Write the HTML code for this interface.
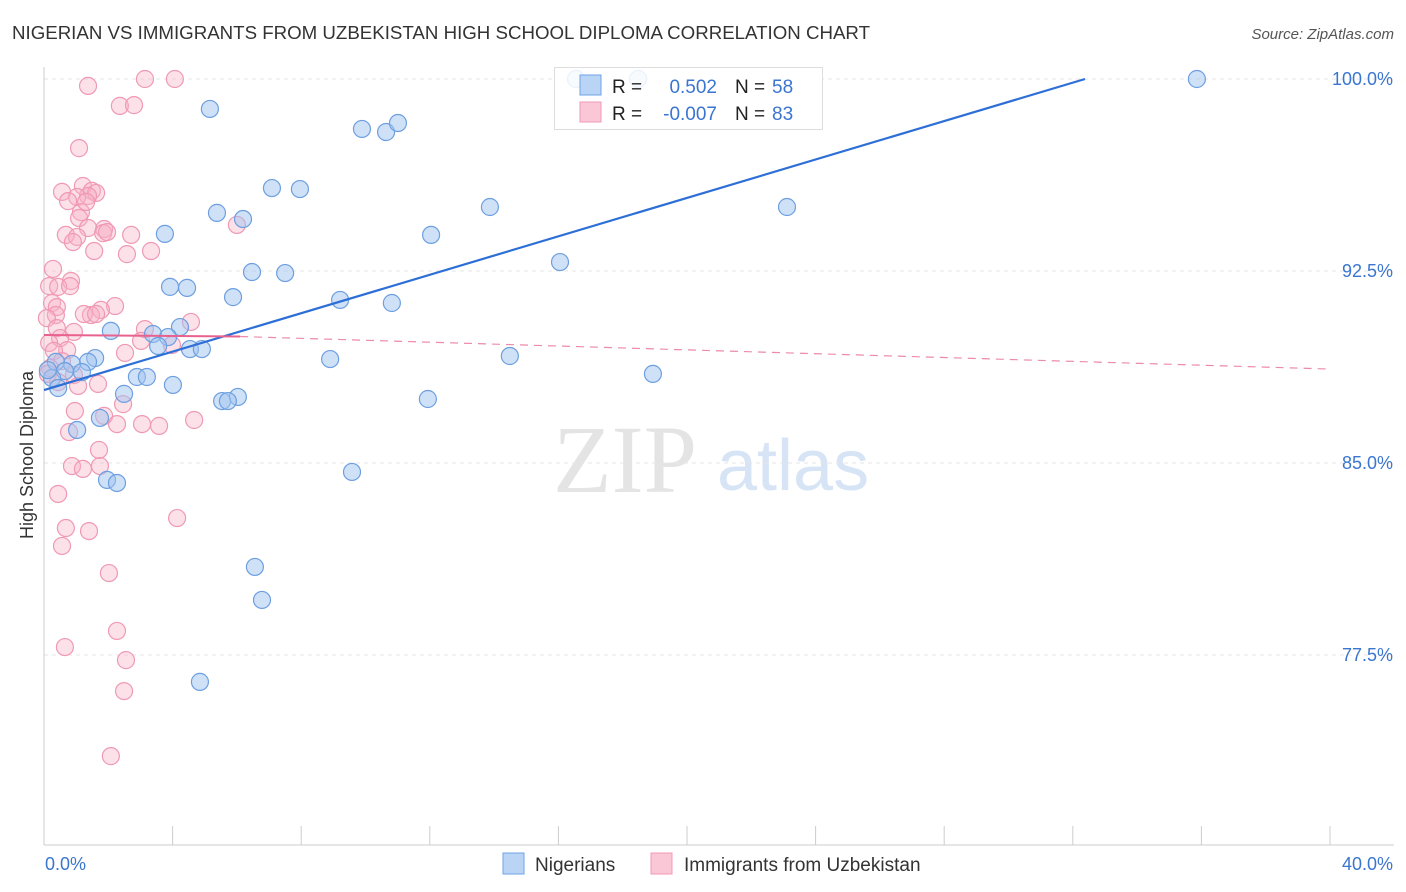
<!DOCTYPE html>
<html><head><meta charset="utf-8"><style>
body{margin:0;background:#fff;font-family:"Liberation Sans",sans-serif;}
#wrap{position:relative;width:1406px;height:892px;overflow:hidden;}
</style></head><body>
<div id="wrap">
<svg id="chart" width="1406" height="892">
<text x="12" y="39" font-size="18.7" fill="#333">NIGERIAN VS IMMIGRANTS FROM UZBEKISTAN HIGH SCHOOL DIPLOMA CORRELATION CHART</text>
<text x="1394" y="39" font-size="15" fill="#555" text-anchor="end" font-style="italic">Source: ZipAtlas.com</text>
<text x="33" y="455" font-size="18" fill="#333" text-anchor="middle" transform="rotate(-90 33 455)">High School Diploma</text>
<g>
<text x="553" y="492" font-size="96" font-family="Liberation Serif,serif" fill="#e4e4e4">ZIP</text>
<text x="717" y="490" font-size="72" fill="#d6e4f5">atlas</text>
</g>
<g id="grid"></g><g id="axes"></g><g id="pts"></g><g id="lines"></g>
<g>
<rect x="554.5" y="67.5" width="268" height="62" fill="#fff" fill-opacity="0.85" stroke="#ddd"/>
<rect x="580" y="75" width="21" height="20" fill="#b9d4f5" stroke="#6fa3e6"/>
<rect x="580" y="102" width="21" height="20" fill="#fac7d6" stroke="#f09ab6"/>
<text x="612" y="93" font-size="19" fill="#222">R = </text>
<text x="717" y="93" font-size="19" fill="#3a75d0" text-anchor="end">0.502</text>
<text x="735" y="93" font-size="19" fill="#222">N = </text>
<text x="772" y="93" font-size="19" fill="#3a75d0">58</text>
<text x="612" y="120" font-size="19" fill="#222">R = </text>
<text x="717" y="120" font-size="19" fill="#3a75d0" text-anchor="end">-0.007</text>
<text x="735" y="120" font-size="19" fill="#222">N = </text>
<text x="772" y="120" font-size="19" fill="#3a75d0">83</text>
</g>
<g>
<rect x="503" y="853" width="21" height="21" fill="#b9d4f5" stroke="#6fa3e6"/>
<text x="535" y="871" font-size="19" fill="#333">Nigerians</text>
<rect x="651" y="853" width="21" height="21" fill="#fac7d6" stroke="#f09ab6"/>
<text x="684" y="871" font-size="19" fill="#333">Immigrants from Uzbekistan</text>
</g>
</svg></div>
<script>
const yTicks=[100,92.5,85,77.5];
const yTickLabels=["100.0%","92.5%","85.0%","77.5%"];
const xTickValues=[0,4,8,12,16,20,24,28,32,36,40];
const xEndLabels=["0.0%","40.0%"];
const blueX=[16.55,18.48,35.86,5.16,9.89,10.64,11.01,7.09,7.96,5.38,6.19,13.87,23.11,3.76,12.04,6.47,7.50,16.05,3.92,4.45,5.88,9.21,10.82,4.23,2.08,3.39,3.86,3.55,4.54,4.91,8.90,14.49,1.59,1.37,0.87,0.37,0.65,0.25,0.44,2.89,3.20,4.01,2.49,6.03,5.54,5.72,11.94,18.94,1.74,1.03,1.96,2.27,9.58,6.56,6.78,4.85,0.12,1.18];
const blueY=[100,100,100,98.83,98.05,97.93,98.28,95.74,95.70,94.77,94.53,95.0,95.0,93.95,93.91,92.46,92.42,92.85,91.88,91.84,91.48,91.37,91.25,90.31,90.16,90.04,89.92,89.57,89.45,89.45,89.06,89.18,89.10,88.95,88.87,88.95,88.59,88.32,87.93,88.36,88.36,88.05,87.70,87.58,87.42,87.42,87.5,88.48,86.76,86.29,84.34,84.22,84.65,80.94,79.65,76.45,88.63,88.55];
const pinkX=[1.37,3.14,4.07,2.36,2.80,1.09,0.56,1.21,1.49,1.62,1.37,1.03,0.75,1.15,1.09,1.37,0.68,1.03,1.87,2.71,0.90,1.84,6.00,3.33,1.56,2.58,0.28,0.84,0.16,0.44,0.81,0.25,0.40,2.21,1.77,1.46,0.37,0.09,1.24,1.62,4.57,3.14,0.40,0.93,0.50,0.16,3.98,2.52,0.72,0.31,0.56,0.19,0.93,1.68,1.06,2.46,1.87,4.67,2.27,3.05,3.58,0.78,0.96,1.71,0.87,1.74,1.21,0.44,4.14,0.68,1.40,0.56,2.02,2.27,0.65,2.55,2.49,2.08,0.12,0.44,1.31,1.96,3.02];
const pinkY=[99.73,100,100,98.95,98.98,97.30,95.59,95.82,95.63,95.55,95.43,95.39,95.23,94.80,94.57,94.18,93.91,93.83,94.14,93.91,93.63,93.98,94.30,93.28,93.28,93.16,92.58,92.11,91.91,91.88,91.91,91.25,91.09,91.13,90.98,90.78,90.78,90.66,90.82,90.82,90.51,90.23,90.27,90.12,89.88,89.69,89.61,89.30,89.41,89.38,88.98,88.71,88.44,88.09,88.01,87.30,86.84,86.68,86.52,86.52,86.45,86.21,87.03,85.51,84.88,84.88,84.77,83.79,82.85,82.46,82.34,81.76,80.70,78.44,77.81,77.30,76.09,73.55,88.48,88.16,95.20,94.02,89.77];
const blueTrend=[[0,87.85],[32.38,100]];
const pinkTrend=[[0,90.0],[6.1,89.94],[40,88.67]];

const NS="http://www.w3.org/2000/svg";
const X0=44,X1=1330,Y100=79,PXPER=25.6;
const sx=v=>X0+(X1-X0)*v/40;
const sy=v=>Y100+(100-v)*PXPER;
function mk(tag,attrs,parent){const e=document.createElementNS(NS,tag);for(const k in attrs)e.setAttribute(k,attrs[k]);document.getElementById(parent).appendChild(e);return e;}

yTicks.forEach((t,i)=>{
 const l=mk('line',{x1:X0,x2:1394,y1:sy(t),y2:sy(t),stroke:'#e6e6e6','stroke-dasharray':'4,4'},'grid');
 
 
 const tx=mk('text',{x:1393,y:sy(t)+6,'font-size':18,fill:'#3a75d0','text-anchor':'end'},'axes');
 tx.textContent=yTickLabels[i];
 
 
});
const ya=mk('line',{x1:X0,x2:X0,y1:67,y2:845,stroke:'#ccc'},'axes');


const xa=mk('line',{x1:X0,x2:1394,y1:845,y2:845,stroke:'#ccc'},'axes');


xTickValues.forEach(v=>{
 const t=mk('line',{x1:sx(v),x2:sx(v),y1:826,y2:845,stroke:'#ccc'},'axes');
 
 
});
const xl0=mk('text',{x:45,y:870,'font-size':18,fill:'#3a75d0'},'axes');
xl0.textContent=xEndLabels[0];


const xl1=mk('text',{x:1393,y:870,'font-size':18,fill:'#3a75d0','text-anchor':'end'},'axes');
xl1.textContent=xEndLabels[1];



pinkX.forEach((v,i)=>{
 const c=mk('circle',{cx:sx(v),cy:sy(pinkY[i]),r:8.5,fill:'rgba(248,176,198,0.38)',stroke:'#f099b5','stroke-width':1.2},'pts');
 
 
});
blueX.forEach((v,i)=>{
 const c=mk('circle',{cx:sx(v),cy:sy(blueY[i]),r:8.5,fill:'rgba(160,196,240,0.5)',stroke:'#6d9fe0','stroke-width':1.2},'pts');
 
 
});
const bl=mk('line',{x1:sx(blueTrend[0][0]),y1:sy(blueTrend[0][1]),x2:sx(blueTrend[1][0]),y2:sy(blueTrend[1][1]),stroke:'#2d6fd6','stroke-width':2.2},'lines');


const ps=mk('line',{x1:sx(pinkTrend[0][0]),y1:sy(pinkTrend[0][1]),x2:sx(pinkTrend[1][0]),y2:sy(pinkTrend[1][1]),stroke:'#e8618f','stroke-width':2},'lines');


const pd=mk('line',{x1:sx(pinkTrend[1][0]),y1:sy(pinkTrend[1][1]),x2:sx(pinkTrend[2][0]),y2:sy(pinkTrend[2][1]),stroke:'#ec8aab','stroke-width':1.2,'stroke-dasharray':'8,6'},'lines');


</script>
</body></html>
